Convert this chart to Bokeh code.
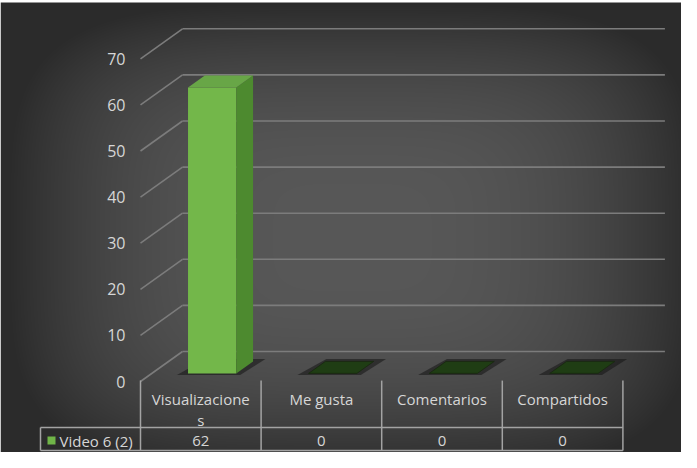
import numpy as np
from bokeh.plotting import figure
from bokeh.models import Range1d
from bokeh.embed import file_html
from bokeh.resources import INLINE
from bokeh.core.properties import value

# ---------------- data ----------------
categories = ["Visualizaciones", "Me gusta", "Comentarios", "Compartidos"]
header_lines = [["Visualizacione", "s"], ["Me gusta"], ["Comentarios"], ["Compartidos"]]
series_name = "Video 6 (2)"
series_values = [62, 0, 0, 0]
y_ticks = [0, 10, 20, 30, 40, 50, 60, 70]

# ---------------- layout (canvas px) ----------------
W, H = 681, 452
PXC = 120.6   # px per category slot
PXV = 4.61    # px per value unit
X0 = 140.0    # canvas x of first category's left edge (front)
Y0 = 381.0    # canvas y of value 0 (front edge of floor)


def vx(cx):
    return (cx - X0) / PXC


def vy(cy):
    return (Y0 - cy) / PXV


DX = 42 / PXC   # full depth offset (x, category units)
DY = 30 / PXV   # full depth offset (y, value units)


def proj(x, v, d):
    return x + d * DX, v + d * DY


FONT = value("Open Sans")
TXT = "#d6d6d6"

p = figure(width=W, height=H,
           x_range=Range1d(vx(0), vx(W)), y_range=Range1d(vy(H), vy(0)),
           output_backend="svg", toolbar_location=None, min_border=0)
p.axis.visible = False
p.grid.visible = False
p.outline_line_color = None
p.background_fill_color = "white"
p.border_fill_color = "white"

# ---------------- background gradient ----------------
rows = np.arange(H)
cols = np.arange(W)
cyy = (H - 1 - rows)[:, None] + 0.5 + 8
cxx = cols[None, :] + 0.5 + 8
dxn = np.abs(cxx - 360) / 345.0
dyn = np.abs(cyy - 245) / 235.0
r = (dxn ** 4 + dyn ** 4) ** 0.25
r = np.clip(r, 0, 1)
t = r ** 2.6
c = 0x58 + (0x2b - 0x58) * t
c = np.clip(c, 0, 255).astype(np.uint8)
img = np.empty((H, W), dtype=np.uint32)
view = img.view(dtype=np.uint8).reshape((H, W, 4))
view[..., 0] = c
view[..., 1] = c
view[..., 2] = c
view[..., 3] = 255
# white band on top (page y < 10)
top_rows = (cyy[:, 0] < 10)
view[top_rows, :, :3] = 255
p.image_rgba(image=[img], x=vx(0), y=vy(H), dw=W / PXC, dh=H / PXV)

# ---------------- walls: gridlines ----------------
grid_xs, grid_ys, diag_xs, diag_ys = [], [], [], []
n = len(categories)
for tk in y_ticks:
    x1, y1 = proj(0, tk, 1)
    x2, y2 = proj(n, tk, 1)
    grid_xs.append([x1, x2])
    grid_ys.append([y1, y2])
    a, b = proj(0, tk, 0)
    diag_xs.append([a, x1])
    diag_ys.append([b, y1])
p.multi_line(grid_xs, grid_ys, line_color="#7c7c7c", line_width=1.6)
p.multi_line(diag_xs, diag_ys, line_color="#7c7c7c", line_width=1.6)

# ---------------- bars ----------------
D0, D1 = 0.27, 0.67
BW = 0.4


def poly(pts):
    xs, ys = zip(*[proj(*q) for q in pts])
    return list(xs), list(ys)


sh_xs, sh_ys = [], []
fr_xs, fr_ys, sd_xs, sd_ys, tp_xs, tp_ys = [], [], [], [], [], []
z_xs, z_ys = [], []
for i, v in enumerate(series_values):
    xl = i + (1 - BW) / 2
    xr = xl + BW
    a, b = poly([(xl - 0.075, 0, D0 - 0.05), (xr + 0.05, 0, D0 - 0.05),
                 (xr + 0.075, 0, D1 + 0.08), (xl - 0.02, 0, D1 + 0.08)])
    sh_xs.append(a); sh_ys.append(b)
    if v > 0:
        a, b = poly([(xl, 0, D0), (xr, 0, D0), (xr, v, D0), (xl, v, D0)])
        fr_xs.append(a); fr_ys.append(b)
        a, b = poly([(xr, 0, D0), (xr, 0, D1), (xr, v, D1), (xr, v, D0)])
        sd_xs.append(a); sd_ys.append(b)
        a, b = poly([(xl, v, D0), (xr, v, D0), (xr, v, D1), (xl, v, D1)])
        tp_xs.append(a); tp_ys.append(b)
    else:
        a, b = poly([(xl, 0, D0), (xr, 0, D0), (xr, 0, D1), (xl, 0, D1)])
        z_xs.append(a); z_ys.append(b)

p.patches(sh_xs, sh_ys, fill_color="#141414", fill_alpha=0.55, line_color=None)
p.patches(z_xs, z_ys, fill_color="#1f3d14", line_color="#1a2a12", line_width=1)
p.patches(fr_xs, fr_ys, fill_color="#73b74a", line_color=None)
p.patches(sd_xs, sd_ys, fill_color="#4d8a2f", line_color=None)
p.patches(tp_xs, tp_ys, fill_color="#68a647", line_color=None)

# ---------------- tick labels ----------------
p.text(x=[0] * len(y_ticks), y=y_ticks, text=[str(tk) for tk in y_ticks],
       x_offset=-15, text_align="right", text_baseline="middle",
       text_font=FONT, text_font_size="16px", text_color=TXT)

# ---------------- data table ----------------
LC = "#a3a3a3"
sep_v = vy(427)
bot_v = vy(450)
left_x = vx(40)
tx = [[i, i] for i in range(n + 1)]
ty = [[0.2, bot_v] for _ in range(n + 1)]
tx += [[left_x, n], [left_x, n], [left_x, left_x]]
ty += [[sep_v, sep_v], [bot_v, bot_v], [sep_v, bot_v]]
p.multi_line(tx, ty, line_color=LC, line_width=1.5)

hx, hy, ht = [], [], []
for i, lines in enumerate(header_lines):
    for k, ln in enumerate(lines):
        hx.append(i + 0.5)
        hy.append(vy(398 + 21 * k))
        ht.append(ln)
p.text(x=hx, y=hy, text=ht, text_align="center", text_baseline="middle",
       text_font=FONT, text_font_size="15px", text_color=TXT)

p.text(x=[i + 0.5 for i in range(n)], y=[vy(440)] * n,
       text=[str(v) for v in series_values], text_align="center",
       text_baseline="middle", text_font=FONT, text_font_size="15px",
       text_color=TXT)

p.rect(x=[vx(51)], y=[vy(440)], width=8, height=8, width_units="screen",
       height_units="screen", fill_color="#70b548", line_color=None)
p.text(x=[vx(59)], y=[vy(440)], text=[series_name], text_align="left",
       text_baseline="middle", text_font=FONT, text_font_size="15px",
       text_color=TXT)

open("out.html", "w").write(file_html(p, INLINE))
